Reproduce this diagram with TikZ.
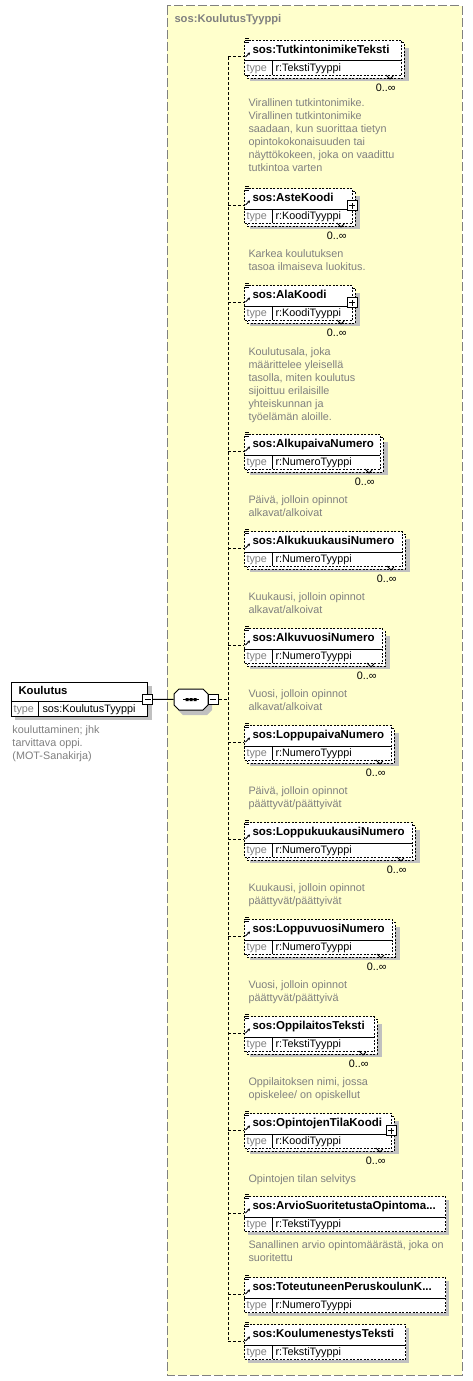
\documentclass[tikz,border=0pt]{standalone}
\usepackage{fontspec}
\setmainfont{Liberation Sans}
\usetikzlibrary{calc, arrows.meta, positioning}
\definecolor{xsyellow}{HTML}{FFFFCC}
\definecolor{xsgrey}{HTML}{808080}
\definecolor{xsshade}{HTML}{C0C0C0}
\newcommand{\xsfont}{\fontsize{10.8}{13}\selectfont}
\newcommand{\xsbold}{\fontsize{11.5}{13}\selectfont\bfseries}
\newcommand{\trunc}{...}

\begin{document}
\begin{tikzpicture}[x=1pt, y=-1pt, line width=1pt,
    elbox/.style={draw, fill=white, dash pattern=on 2pt off 1.5pt, inner sep=0pt, anchor=north west},
    dashes/.style={dash pattern=on 2pt off 1.5pt},
    link/.style={dash pattern=on 3pt off 2pt},
    toggle/.style={draw, solid, fill=white, inner sep=0pt, minimum size=10pt},
    eltext/.style={font=\xsbold, inner sep=0pt, anchor=base west},
    tytext/.style={font=\xsfont, inner sep=0pt, anchor=base west},
    desc/.style={font=\xsfont, text=xsgrey, align=left, inner sep=0pt, anchor=north west},
    card/.style={font=\xsfont, inner sep=0pt, anchor=base east}]

    \useasboundingbox (0,0) rectangle (473,1381);
    \fill[white] (0,0) rectangle (473,1381);

    % complex type area
    \draw[xsgrey, fill=xsyellow, dash pattern=on 9pt off 3pt] (167,6) rectangle (462,1375);
    \node[eltext, text=xsgrey, font=\fontsize{11.2}{13}\selectfont\bfseries] (ctype) at (174,23) {sos:KoulutusTyyppi};

    % root element
    \fill[xsshade] (15,686) rectangle (152,720);
    \node[draw, fill=white, inner sep=0pt, anchor=north west, minimum width=136, minimum height=34] (koul) at (11,682) {};
    \draw (11,701) -- (147,701);
    \draw (38.5,701) -- (38.5,716);
    \node[eltext, font=\fontsize{11.3}{13}\selectfont\bfseries] (kname) at (18,694.5) {Koulutus};
    \node[tytext, text=xsgrey] (ktype) at (13,712) {type};
    \node[tytext] (kval) at (42,712) {sos:KoulutusTyyppi};
    \node[desc] (kdesc) at (12,725) {kouluttaminen; jhk\\tarvittava oppi.\\(MOT-Sanakirja)};
    \node[toggle] (ktog) at (147.5,699.3) {};
    \draw (ktog.center) +(-3pt,0) -- +(3pt,0);

    % sequence compositor
    \fill[xsshade] (183,694) -- (207,694) -- (212,699) -- (212,710) -- (207,715) -- (183,715) -- (178,710) -- (178,699) -- cycle;
    \draw[fill=white] (179,689) -- (203,689) -- (208,694) -- (208,705) -- (203,710) -- (179,710) -- (174,705) -- (174,694) -- cycle;
    \node[inner sep=0pt, minimum width=34, minimum height=21] (seq) at (191,699.5) {};
    \draw (183,699.5) -- (199,699.5);
    \fill (185.5,698) rectangle (188.5,701) (189.5,698) rectangle (192.5,701) (193.5,698) rectangle (196.5,701);
    \node[toggle] (seqtog) at (213.3,699.3) {};
    \draw (seqtog.center) +(-3pt,0) -- +(3pt,0);
    \coordinate (sseq) at (228,699.3);
    \draw (ktog) -- (seq);
    \draw[link] (seqtog) -- (sseq);

    % child elements
    \foreach \i/\yt/\xr/\nm/\tp/\multi/\haspl in {
        1/40/401/TutkintonimikeTeksti/Teksti/1/0,
        2/188/352/AsteKoodi/Koodi/1/1,
        3/285/352/AlaKoodi/Koodi/1/1,
        4/434/380/AlkupaivaNumero/Numero/1/0,
        5/531/402/AlkukuukausiNumero/Numero/1/0,
        6/628/382/AlkuvuosiNumero/Numero/1/0,
        7/725/391/LoppupaivaNumero/Numero/1/0,
        8/822/412/LoppukuukausiNumero/Numero/1/0,
        9/919/392/LoppuvuosiNumero/Numero/1/0,
        10/1016/374/OppilaitosTeksti/Teksti/1/0,
        11/1113/391/OpintojenTilaKoodi/Koodi/1/1,
        12/1196/445/ArvioSuoritetustaOpintoma\trunc/Teksti/0/0,
        13/1277/445/ToteutuneenPeruskoulunK\trunc/Numero/0/0,
        14/1324/405/KoulumenestysTeksti/Teksti/0/0}
    {
        \ifnum\multi=1
            \fill[xsshade] (250,\yt+8) rectangle (\xr+8,\yt+41);
            \draw[dashes, fill=white] (247,\yt+3) rectangle (\xr+3,\yt+38);
        \else
            \fill[xsshade] (248,\yt+4) rectangle (\xr+4,\yt+39);
        \fi
        \node[elbox, minimum width=\xr-244, minimum height=35] (e\i) at (244,\yt) {};
        \draw (244,\yt+21) -- (\xr,\yt+21);
        \draw (272,\yt+21) -- (272,\yt+35);
        \node[eltext] (n\i) at (252,\yt+13) {sos:\nm};
        \node[tytext, text=xsgrey] (l\i) at (246,\yt+31) {type};
        \node[tytext] (v\i) at (275,\yt+31) {r:\tp Tyyppi};
        % icons
        \draw[line width=0.7pt] (245,\yt-2) -- (249,\yt-2) (245,\yt) -- (249,\yt) (245,\yt+2) -- (249,\yt+2);
        \draw[-{Stealth[length=2.5pt,width=3pt]}, line width=0.9pt] (245.5,\yt+17) -- (250,\yt+12.5);
        \ifnum\multi=1
            \draw[line width=0.8pt] (\xr-15,\yt+35) -- (\xr-11,\yt+39) -- (\xr-8,\yt+36);
            \node[card] (c\i) at (\xr-5,\yt+51) {0..∞};
        \fi
        \ifnum\haspl=1
            \node[toggle] (p\i) at (\xr,\yt+17.5) {};
            \draw (p\i.center) +(-3pt,0) -- +(3pt,0) +(0,-3pt) -- +(0,3pt);
        \fi
        \coordinate (s\i) at (228,\yt+17);
        \draw[link] (s\i) -- (s\i -| e\i.west);
    }
    \draw[link] (s1) -- (s14);

    % annotations
    \node[desc] (d1) at (248,98) {Virallinen tutkintonimike.\\Virallinen tutkintonimike\\saadaan, kun suorittaa tietyn\\opintokokonaisuuden tai\\näyttökokeen, joka on vaadittu\\tutkintoa varten};
    \node[desc] (d2) at (248,249) {Karkea koulutuksen\\tasoa ilmaiseva luokitus.};
    \node[desc] (d3) at (248,347) {Koulutusala, joka\\määrittelee yleisellä\\tasolla, miten koulutus\\sijoittuu erilaisille\\yhteiskunnan ja\\työelämän aloille.};
    \node[desc] (d4) at (248,495) {Päivä, jolloin opinnot\\alkavat/alkoivat};
    \node[desc] (d5) at (248,592) {Kuukausi, jolloin opinnot\\alkavat/alkoivat};
    \node[desc] (d6) at (248,689) {Vuosi, jolloin opinnot\\alkavat/alkoivat};
    \node[desc] (d7) at (248,786) {Päivä, jolloin opinnot\\päättyvät/päättyivät};
    \node[desc] (d8) at (248,883) {Kuukausi, jolloin opinnot\\päättyvät/päättyivät};
    \node[desc] (d9) at (248,980) {Vuosi, jolloin opinnot\\päättyvät/päättyivä};
    \node[desc] (d10) at (248,1077) {Oppilaitoksen nimi, jossa\\opiskelee/ on opiskellut};
    \node[desc] (d11) at (248,1174) {Opintojen tilan selvitys};
    \node[desc] (d12) at (248,1240) {Sanallinen arvio opintomäärästä, joka on\\suoritettu};
\end{tikzpicture}
\end{document}
